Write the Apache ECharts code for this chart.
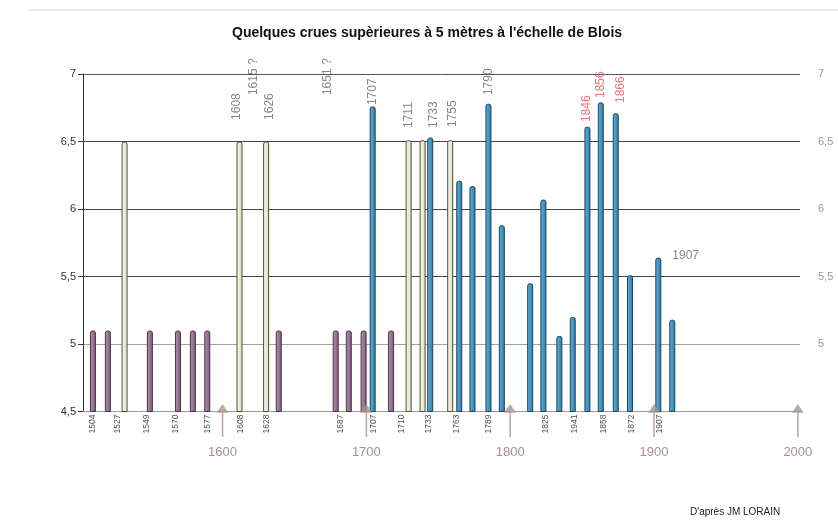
<!DOCTYPE html>
<html><head><meta charset="utf-8">
<script src="https://cdn.jsdelivr.net/npm/echarts@6/dist/echarts.min.js"></script>
<style>html,body{margin:0;padding:0;background:#fff}#c{width:838px;height:520px}</style>
</head><body><div id="c"></div>
<script>
const titleText = "Quelques crues supèrieures à 5 mètres à l'échelle de Blois";
const sourceText = "D'après JM LORAIN";

// Bars: position on the time scale (read against the century arrows) and flood level (m)
const purpleYears  = [1509.9, 1520.3, 1549.5, 1569.0, 1579.4, 1589.4, 1639.1, 1678.7, 1687.8, 1698.1, 1717.2];
const purpleLevels = [5.1, 5.1, 5.1, 5.1, 5.1, 5.1, 5.1, 5.1, 5.1, 5.1, 5.1];
const paleYears    = [1531.9, 1611.8, 1630.3, 1729.4, 1739.1, 1758.3];
const paleLevels   = [6.5, 6.5, 6.5, 6.51, 6.51, 6.51];
const blueYears    = [1704.4, 1744.4, 1764.6, 1773.8, 1784.9, 1794.2, 1813.9, 1823.1, 1834.2, 1843.5, 1853.7, 1863.0, 1873.4, 1883.3, 1903.0, 1912.7];
const blueLevels   = [6.76, 6.53, 6.21, 6.17, 6.78, 5.88, 5.45, 6.07, 5.06, 5.2, 6.61, 6.79, 6.71, 5.51, 5.64, 5.18];

// Year annotations written above the bars (position on time scale, level of the text foot)
const noteYears  = [1610.2, 1621.5, 1633.1, 1672.8, 1704.1, 1729.3, 1746.7, 1759.7, 1785.1, 1853.4, 1862.7, 1876.6];
const noteLevels = [6.66, 6.844, 6.66, 6.844, 6.77, 6.6, 6.6, 6.607, 6.844, 6.644, 6.822, 6.785];
const noteTexts  = ["1608", "1615 ?", "1626", "1651 ?", "1707", "1711", "1733", "1755", "1790", "1846", "1856", "1866"];
const noteRed    = [false, false, false, false, false, false, false, false, false, true, true, true];
const sideNote   = {year: 1912.7, level: 5.652, text: "1907"};

// Small rotated labels under the axis
const tickYears = [1509.5, 1526.9, 1547.2, 1567.4, 1589.4, 1612.5, 1631.0, 1681.9, 1705.1, 1724.8, 1743.3, 1763.0, 1784.9, 1825.0, 1845.1, 1864.8, 1884.5, 1904.2];
const tickTexts = ["1504", "1527", "1549", "1570", "1577", "1608", "1628", "1687", "1707", "1710", "1733", "1763", "1789", "1825", "1941", "1858", "1872", "1907"];

// Century markers
const centuries = [1600, 1700, 1800, 1900, 2000];

const Y_MIN = 4.5, Y_MAX = 7, Y_STEP = 0.5;

function grad(a, b) {
  return new echarts.graphic.LinearGradient(0, 0, 1, 0, [
    {offset: 0, color: a}, {offset: 1, color: b}
  ]);
}
const styles = {
  purple: {color: grad('#b596b2', '#7a5878'), borderColor: '#4b3049', borderWidth: 1},
  pale:   {color: grad('#fbfbe8', '#dcdcc2'), borderColor: '#4e4e40', borderWidth: 1},
  blue:   {color: grad('#62b3e0', '#2f77a3'), borderColor: '#1d445e', borderWidth: 1}
};
const barData = [];
purpleYears.forEach((y, i) => barData.push({value: [y, purpleLevels[i]], itemStyle: styles.purple}));
paleYears.forEach((y, i) => barData.push({value: [y, paleLevels[i]], itemStyle: styles.pale}));
blueYears.forEach((y, i) => barData.push({value: [y, blueLevels[i]], itemStyle: styles.blue}));

const noteData = noteYears.map((y, i) => ({
  value: [y, noteLevels[i], noteTexts[i]],
  label: {color: noteRed[i] ? '#e5505e' : '#666'}
}));
noteData.push({value: [sideNote.year, sideNote.level, sideNote.text],
  label: {rotate: 0, color: '#666', align: 'left', verticalAlign: 'middle'}});

const chart = echarts.init(document.getElementById('c'), null, {renderer: 'canvas'});
chart.setOption({
  animation: false,
  backgroundColor: '#fff',
  title: [
    {text: titleText, left: 232, top: 26, padding: 0,
     textStyle: {fontFamily: 'Liberation Sans, Arial, sans-serif', fontSize: 14, fontWeight: 'bold', color: '#111'}},
    {text: sourceText, left: 690, top: 507, padding: 0,
     textStyle: {fontFamily: 'Liberation Sans, Arial, sans-serif', fontSize: 10, fontWeight: 'normal', color: '#222'}}
  ],
  graphic: [
    {type: 'line', shape: {x1: 28, y1: 10, x2: 838, y2: 10}, style: {stroke: '#d6d6d6', lineWidth: 1}, silent: true}
  ],
  grid: {left: 83, right: 38, top: 74, bottom: 108.5, containLabel: false},
  xAxis: {
    type: 'value', min: 1503, max: 2001.5,
    axisLine: {show: true, lineStyle: {color: '#9a9a9a'}},
    axisTick: {show: false}, axisLabel: {show: false}, splitLine: {show: false}
  },
  yAxis: [
    {type: 'value', min: Y_MIN, max: Y_MAX, interval: Y_STEP, position: 'left',
     axisLine: {show: true, lineStyle: {color: '#333'}},
     axisTick: {show: true, length: 5, lineStyle: {color: '#333'}},
     axisLabel: {margin: 7, color: '#333', fontSize: 11, fontFamily: 'Liberation Sans, Arial, sans-serif',
       formatter: v => String(v).replace('.', ',')},
     splitLine: {show: true, lineStyle: {color: ['#aaa', '#a0a0a0', '#444', '#444', '#444', '#555'], width: 1}}},
    {type: 'value', min: Y_MIN, max: Y_MAX, interval: Y_STEP, position: 'right',
     axisLine: {show: false}, axisTick: {show: false}, splitLine: {show: false},
     axisLabel: {margin: 18, color: '#999', fontSize: 11, showMinLabel: false, fontFamily: 'Liberation Sans, Arial, sans-serif',
       formatter: v => String(v).replace('.', ',')}}
  ],
  series: [
    {type: 'bar', data: barData, barWidth: 6, clip: true,
     itemStyle: {borderRadius: [2, 2, 0, 0]}},
    {type: 'scatter', data: noteData, symbolSize: 0, clip: false, silent: true,
     label: {show: true, position: 'inside', rotate: 90, align: 'left', verticalAlign: 'middle',
       fontSize: 12, fontFamily: 'Liberation Sans, Arial, sans-serif',
       formatter: p => p.value[2]}},
    {type: 'scatter', data: tickYears.map((y, i) => [y, Y_MIN, tickTexts[i]]), symbolSize: 0, clip: false, silent: true,
     label: {show: true, position: [0, 3], rotate: 90, align: 'right', verticalAlign: 'middle',
       fontSize: 8.5, color: '#222', fontFamily: 'Liberation Sans, Arial, sans-serif',
       formatter: p => p.value[2]}},
    {type: 'scatter', data: centuries.map(c => [c, Y_MIN]), clip: false, silent: true,
     symbol: 'path://M6,0 L12,9 L6.8,9 L6.8,34 L5.2,34 L5.2,9 L0,9 Z',
     symbolSize: [12, 33], symbolOffset: [0, 9],
     itemStyle: {color: '#a8958f'},
     label: {show: true, position: 'bottom', distance: 9, fontSize: 13, color: '#8a7672',
       fontFamily: 'Liberation Sans, Arial, sans-serif', formatter: p => String(p.value[0])}}
  ]
});
</script>
</body></html>
